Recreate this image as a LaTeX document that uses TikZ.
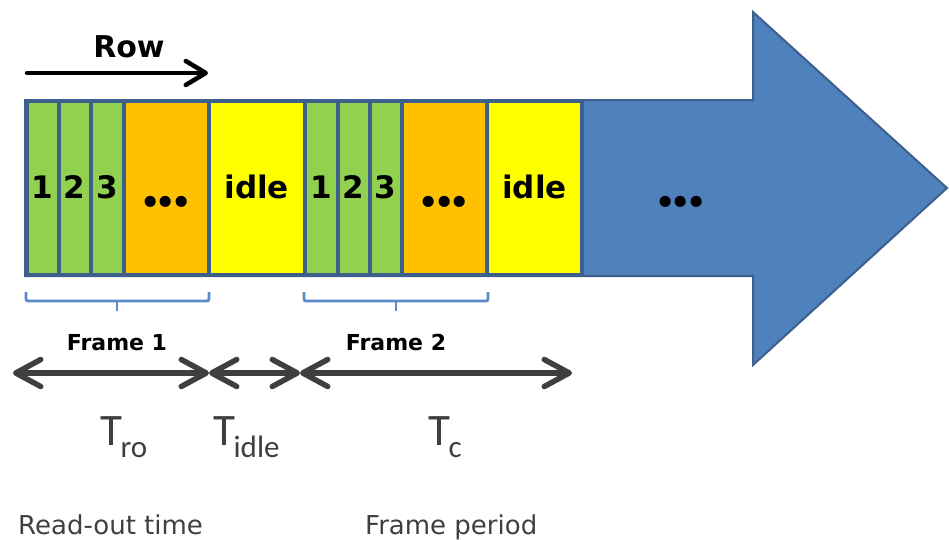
\documentclass[tikz,border=0pt]{standalone}
\usepackage{fontspec}
\setmainfont{DejaVu Sans}
\newfontfamily\calib{Carlito}
\newfontfamily\lmroman{Latin Modern Roman}
\usetikzlibrary{arrows.meta}

\definecolor{cellgreen}{HTML}{92D050}
\definecolor{cellorange}{HTML}{FFC000}
\definecolor{cellyellow}{HTML}{FFFF00}
\definecolor{bigblue}{HTML}{4F81BD}
\definecolor{edgeblue}{HTML}{3C5F8C}
\definecolor{bracecol}{HTML}{5B8BC8}
\definecolor{darkgray}{HTML}{3F3F3F}

% time symbol with a lowered subscript
\newcommand\Tlabel[1]{{\calib\fontsize{45}{45}\selectfont T\kern-1.5pt\raisebox{-12pt}{\fontsize{31}{31}\selectfont #1}}}
% three round dots
\newcommand\threedots{.\kern-9pt.\kern-9pt.}

\tikzset{
  spanbarb/.tip={Straight Barb[length=25pt, width=27pt, line cap=round, line join=round]},
  rowbarb/.tip={Straight Barb[length=20pt, width=24pt, line cap=round, line join=round]},
  cellbox/.style={draw=edgeblue, line width=4pt, minimum height=174pt, inner sep=0pt},
  celltxt/.style={anchor=base, inner sep=0pt, font=\bfseries\fontsize{31}{31}\selectfont},
  dotstxt/.style={anchor=base, inner sep=0pt, font=\lmroman\bfseries\fontsize{78}{78}\selectfont},
  spanarrow/.style={draw=darkgray, line width=5.5pt, line cap=round, spanbarb-spanbarb},
  bracket/.style={draw=bracecol, line width=2.8pt, rounded corners=2pt},
  framelbl/.style={anchor=base, inner sep=0pt, font=\bfseries\fontsize{22}{22}\selectfont},
  caption/.style={anchor=base west, inner sep=0pt, text=darkgray, font=\fontsize{26}{26}\selectfont},
  tlbl/.style={anchor=base west, inner sep=0pt, text=darkgray}
}

\begin{document}
\begin{tikzpicture}[x=1pt, y=-1pt]
\useasboundingbox (0,0) rectangle (949,539);

% the big block arrow that carries the frame sequence
\filldraw[fill=bigblue, draw=edgeblue, line width=2pt, line join=miter]
  (25,100) -- (753,100) -- (753,12) -- (947,188) -- (753,365) -- (753,276) -- (25,276) -- cycle;

% read-out cells of the two frames
\foreach \l/\r/\c/\n in {
  26.5/58.5/cellgreen/a1, 58.5/91/cellgreen/a2, 91/123.5/cellgreen/a3,
  123.5/208.5/cellorange/ao, 208.5/305/cellyellow/ai,
  305/337.5/cellgreen/b1, 337.5/369.5/cellgreen/b2, 369.5/401.5/cellgreen/b3,
  401.5/487/cellorange/bo, 487/582/cellyellow/bi}
  \node[cellbox, fill=\c, minimum width={(\r-\l)*1pt}] (\n) at ({(\l+\r)/2},187.5) {};

\coordinate (txtline) at (0,198);
\coordinate (dotline) at (0,207);

\node[celltxt] (a1t) at (a1 |- txtline) {1};
\node[celltxt] (a2t) at (a2 |- txtline) {2};
\node[celltxt] (a3t) at (a3 |- txtline) {3};
\node[dotstxt] (aot) at (ao |- dotline) {\threedots};
\node[celltxt] (ait) at (ai |- txtline) {idle};
\node[celltxt] (b1t) at (b1 |- txtline) {1};
\node[celltxt] (b2t) at (b2 |- txtline) {2};
\node[celltxt] (b3t) at (b3 |- txtline) {3};
\node[dotstxt] (bot) at (bo |- dotline) {\threedots};
\node[celltxt] (bit) at (bi |- txtline) {idle};
\node[dotstxt] (restdots) at (681,207) {\threedots};

% row direction
\node[anchor=base, inner sep=0pt, font=\bfseries\fontsize{30}{30}\selectfont] (rowlbl) at (129,57) {Row};
\coordinate (rowstart) at (27,73);
\coordinate (rowend) at (208,73);
\draw[line width=4.5pt, line cap=round, -rowbarb] (rowstart) -- (rowend);

% frame brackets
\draw[bracket] (26,292) -- (26,301) -- (209,301) -- (209,292);
\draw[bracket] (117,301) -- (117,311);
\draw[bracket] (304,292) -- (304,301) -- (488,301) -- (488,292);
\draw[bracket] (396,301) -- (396,311);
\node[framelbl] (f1) at (117,350) {Frame 1};
\node[framelbl] (f2) at (396,350) {Frame 2};

% time spans
\coordinate (s0) at (13,373);
\coordinate (s1) at (209,373);
\coordinate (s2) at (300,373);
\coordinate (s3) at (572,373);
\draw[spanarrow] (s0) -- (s1);
\draw[spanarrow] (s1) -- (s2);
\draw[spanarrow] (s2) -- (s3);

\node[tlbl] (tro) at (100,445) {\Tlabel{ro}};
\node[tlbl] (tidle) at (213,445) {\Tlabel{idle}};
\node[tlbl] (tc) at (428,445) {\Tlabel{c}};

\node[caption] (readout) at (18,534) {Read-out time};
\node[caption] (period) at (365,534) {Frame period};
\end{tikzpicture}
\end{document}
